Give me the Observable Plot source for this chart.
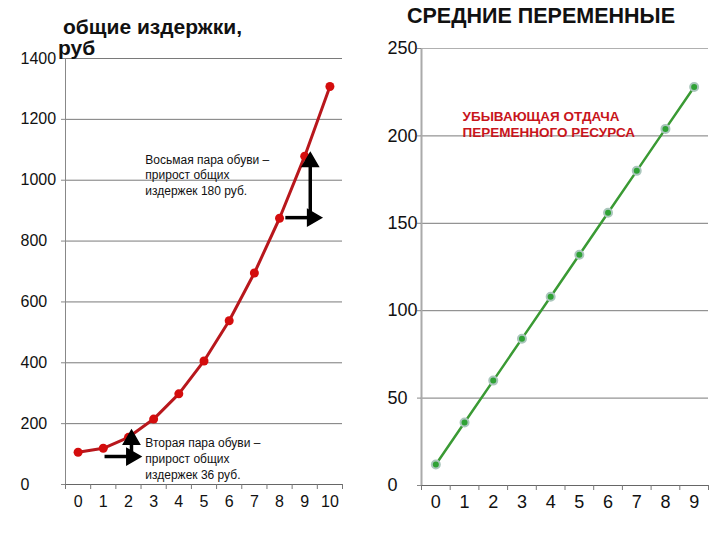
<!DOCTYPE html>
<html>
<head>
<meta charset="utf-8">
<script src="https://cdn.jsdelivr.net/npm/d3@7"></script>
<script src="https://cdn.jsdelivr.net/npm/@observablehq/plot@0.6"></script>
<style>
  html, body { margin: 0; padding: 0; background: #fff; }
  #wrap { position: relative; width: 720px; height: 540px; font-family: "Liberation Sans", Arial, sans-serif; }
  #left, #right { position: absolute; top: 0; }
  #left { left: 0; }
  #right { left: 360px; }
  .title { position: absolute; font-weight: bold; color: #111; white-space: nowrap; z-index: 2; }
</style>
</head>
<body>
<div id="wrap">
  <div id="left"></div>
  <div id="right"></div>
  <div class="title" style="left:63px; top:16px; font-size:21px; line-height:21px;">общие издержки,</div>
  <div class="title" style="left:58px; top:37px; font-size:21px; line-height:21px;">руб</div>
  <div class="title" style="left:407px; top:6px; font-size:21.5px; line-height:21px;">СРЕДНИЕ ПЕРЕМЕННЫЕ</div>
</div>
<script>
// ---- Left chart: total costs ----
const qty = [0, 1, 2, 3, 4, 5, 6, 7, 8, 9, 10];
const totalCost = [106, 119, 155, 215, 298, 406, 538, 695, 875, 1079, 1308];
const leftYTicks = [0, 200, 400, 600, 800, 1000, 1200, 1400];

// annotations (data units)
const leftNotes = ["Восьмая пара обуви –\nприрост общих\nиздержек 180 руб.", "Вторая пара обуви –\nприрост общих\nиздержек 36 руб."];
const leftNoteX = [2.67, 2.67];
const leftNoteY = [1020, 87];
const arrowX1 = [8.23, 9.22, 1.05, 2.12];
const arrowY1 = [877, 861, 92, 85];
const arrowX2 = [9.3, 9.22, 2.12, 2.12];
const arrowY2 = [877, 1060, 92, 148];

// ---- Right chart: average variable costs ----
const qtyAvc = [0, 1, 2, 3, 4, 5, 6, 7, 8, 9];
const avgVarCost = [12, 36, 60, 84, 108, 132, 156, 180, 204, 228];
const rightYTicks = [0, 50, 100, 150, 200, 250];
const rightNote = "УБЫВАЮЩАЯ ОТДАЧА\nПЕРЕМЕННОГО РЕСУРСА";
const rightNoteX = 0.93;
const rightNoteY = 207;

const leftData = qty.map((q, i) => ({q, v: totalCost[i]}));
const leftNotesData = leftNotes.map((t, i) => ({t, x: leftNoteX[i], y: leftNoteY[i]}));
const arrows = arrowX1.map((x1, i) => ({
  x1, y1: arrowY1[i], x2: arrowX2[i], y2: arrowY2[i],
  dir: arrowY1[i] === arrowY2[i] ? 90 : 0
}));
const rightData = qtyAvc.map((q, i) => ({q, v: avgVarCost[i]}));

const font = "'Liberation Sans', Arial, sans-serif";
const plain = d => String(d);

const left = Plot.plot({
  width: 360,
  height: 540,
  marginLeft: 65,
  marginRight: 18,
  marginTop: 58,
  marginBottom: 56,
  style: {fontFamily: font, fontSize: "16px", color: "#111", background: "white"},
  x: {domain: [-0.5, 10.5], axis: null, label: null},
  y: {domain: [0, 1400], axis: null, label: null},
  marks: [
    Plot.gridY(leftYTicks, {stroke: "#7a7a7a", strokeOpacity: 1}),
    Plot.ruleX([-0.5], {stroke: "#888", y1: 0, y2: 1400}),
    Plot.ruleY([0], {stroke: "#666"}),
    Plot.axisY(leftYTicks, {tickSize: 4, tickPadding: 41, textAnchor: "start", tickFormat: plain, label: null, stroke: "#888", fill: "#111", fontSize: 16}),
    Plot.axisX(d3.range(-0.5, 11, 1), {tickSize: 5, tickFormat: () => "", label: null, stroke: "#777"}),
    Plot.axisX(qty, {tickSize: 0, tickPadding: 11, tickFormat: plain, label: null, fontSize: 16, fill: "#111"}),
    Plot.line(leftData, {x: "q", y: "v", stroke: "#b8171c", strokeWidth: 3}),
    Plot.dot(leftData, {x: "q", y: "v", r: 4.5, fill: "#d40d0d"}),
    Plot.link(arrows, {x1: "x1", y1: "y1", x2: "x2", y2: "y2", stroke: "black", strokeWidth: 3.5}),
    Plot.dot(arrows, {x: "x2", y: "y2", rotate: "dir", symbol: "triangle", r: 6, fill: "black", stroke: "black", strokeWidth: 1.5}),
    Plot.text(leftNotesData, {x: "x", y: "y", text: "t", textAnchor: "start", lineAnchor: "middle", lineHeight: 1.3, fontSize: 12, fill: "#111"})
  ]
});
document.getElementById("left").appendChild(left);

const right = Plot.plot({
  width: 360,
  height: 540,
  marginLeft: 61,
  marginRight: 12,
  marginTop: 48,
  marginBottom: 55,
  style: {fontFamily: font, fontSize: "18px", color: "#111", background: "white"},
  x: {domain: [-0.5, 9.5], axis: null, label: null},
  y: {domain: [0, 250], axis: null, label: null},
  marks: [
    Plot.gridY([50, 100, 150, 200], {stroke: "#7a7a7a", strokeOpacity: 1}),
    Plot.gridY([250], {stroke: "#b0b0b0", strokeOpacity: 1}),
    Plot.ruleX([-0.5], {stroke: "#aaa", strokeWidth: 2}),
    Plot.ruleY([0], {stroke: "#666"}),
    Plot.axisY(rightYTicks, {tickSize: 4, tickPadding: 30, textAnchor: "start", tickFormat: plain, label: null, stroke: "#888", fill: "#111", fontSize: 18}),
    Plot.axisX(d3.range(-0.5, 10, 1), {tickSize: 5, tickFormat: () => "", label: null, stroke: "#777"}),
    Plot.axisX(qtyAvc, {tickSize: 0, tickPadding: 10, tickFormat: plain, label: null, fontSize: 18, fill: "#111"}),
    Plot.line(rightData, {x: "q", y: "v", stroke: "#3a9a34", strokeWidth: 2.5}),
    Plot.dot(rightData, {x: "q", y: "v", r: 4, fill: "#2fa235", stroke: "#aac6bc", strokeWidth: 2}),
    Plot.text([rightNote], {x: rightNoteX, y: rightNoteY, text: d => d, textAnchor: "start", lineAnchor: "middle", lineHeight: 1.22, fontSize: 13.5, fontWeight: "bold", fill: "#c8151b"})
  ]
});
document.getElementById("right").appendChild(right);
</script>
</body>
</html>
